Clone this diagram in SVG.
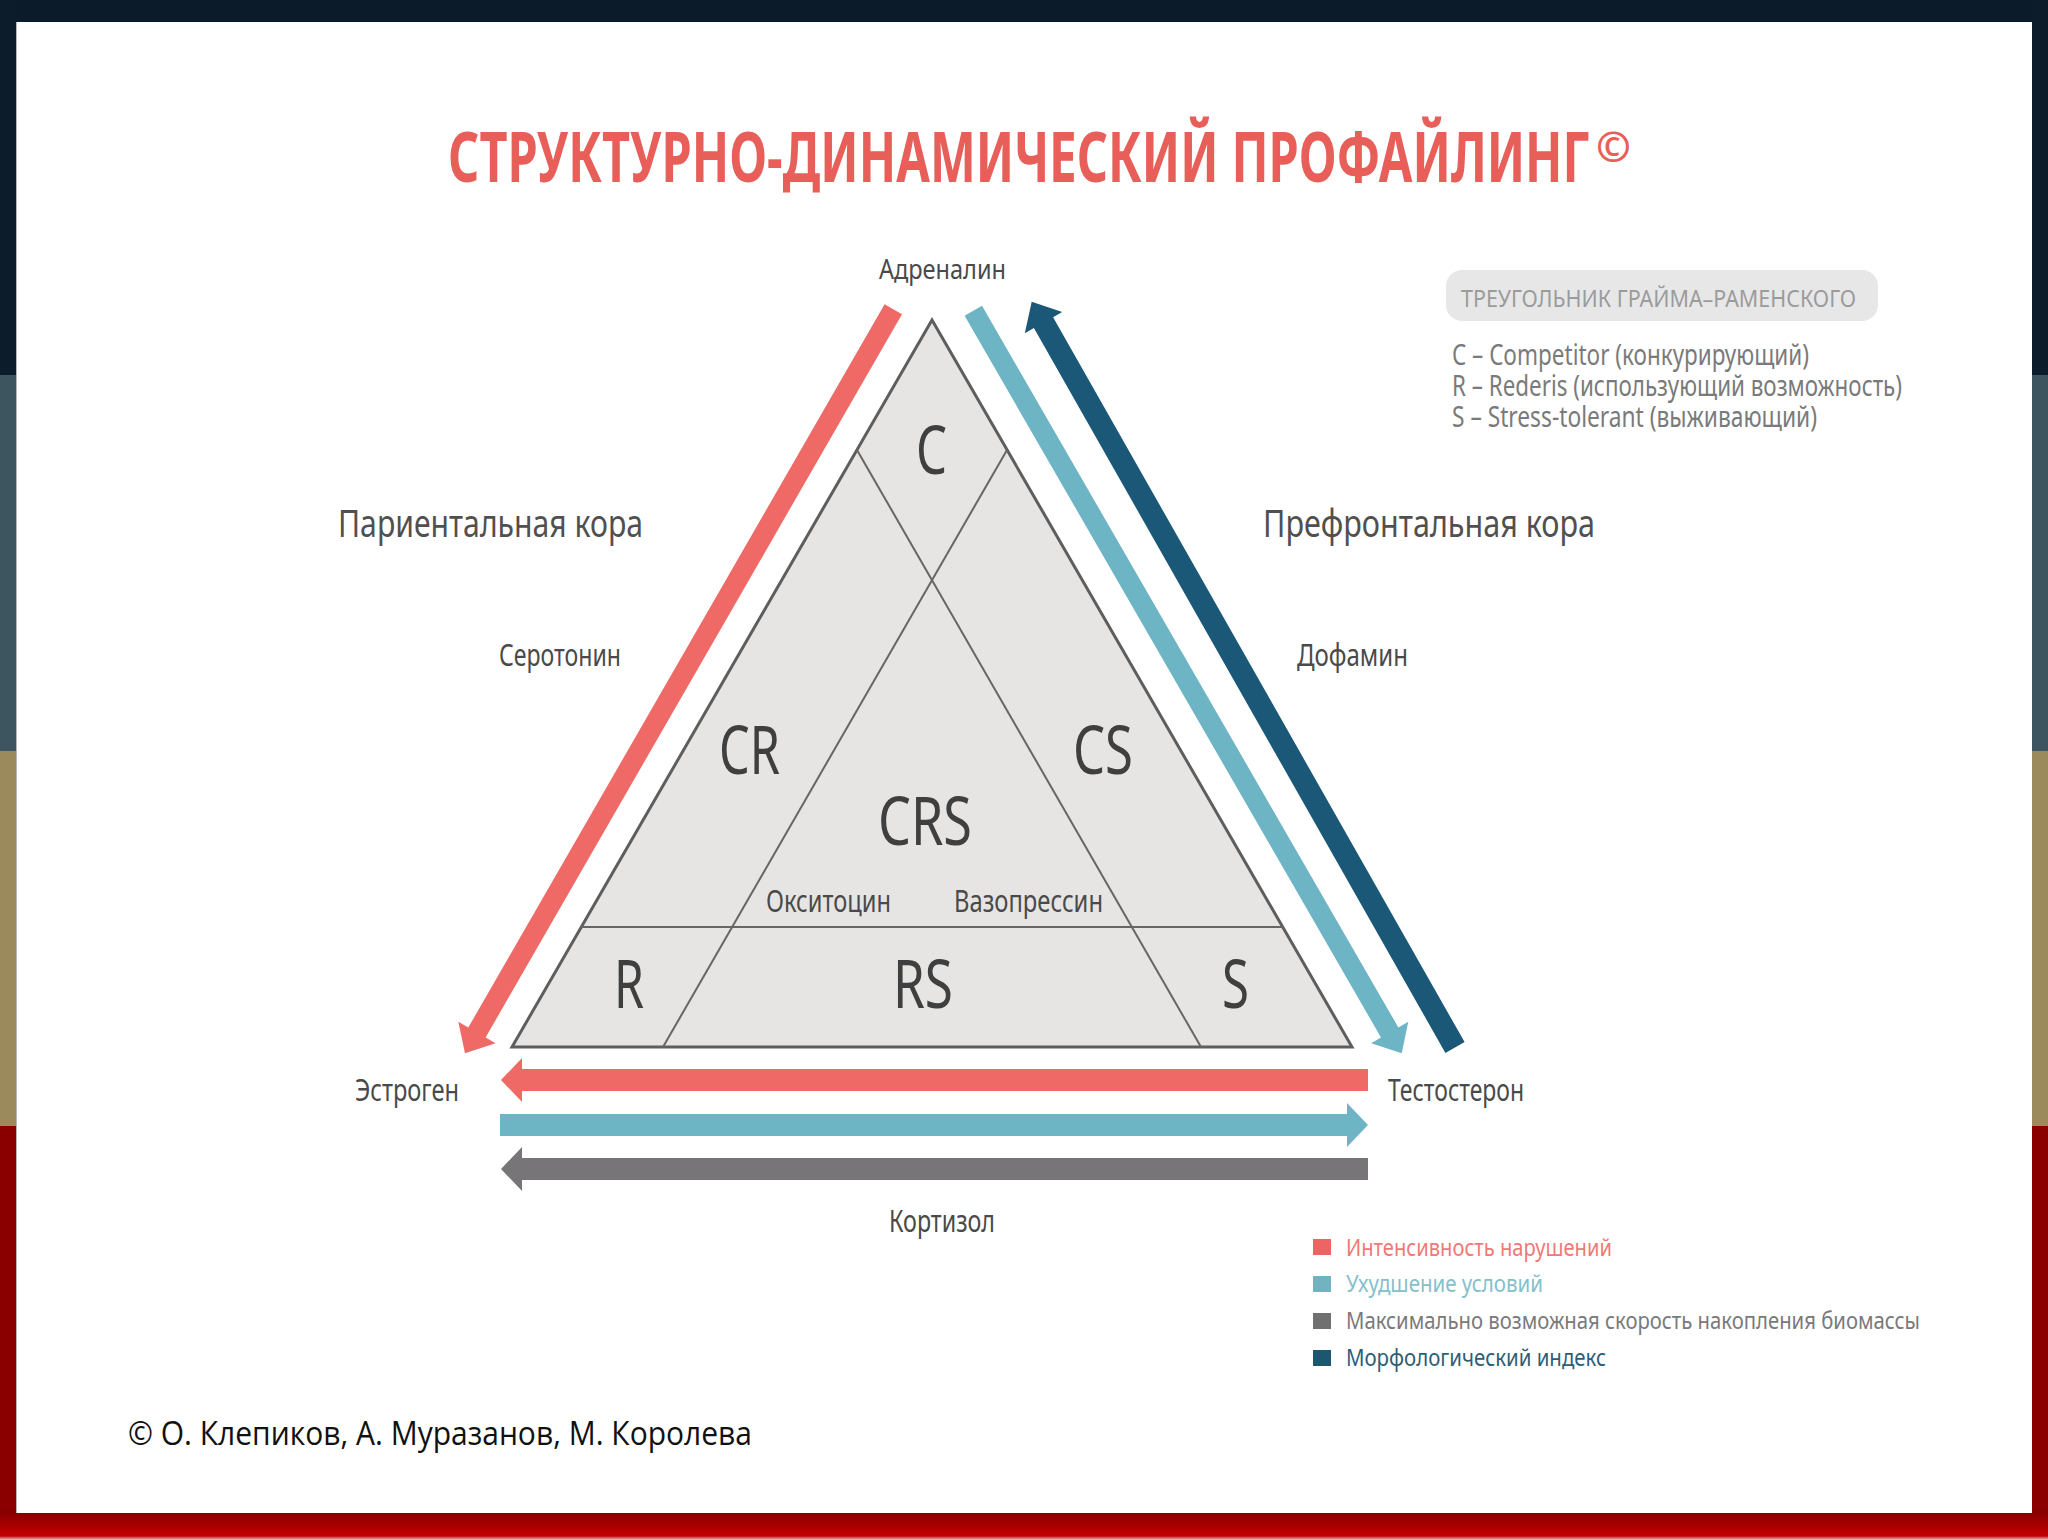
<svg xmlns="http://www.w3.org/2000/svg" width="2048" height="1540" viewBox="0 0 2048 1540">
<defs>
<style>
.t{font-family:"Noto Sans","Open Sans","DejaVu Sans",sans-serif;fill:#4a4a4a}
.big{font-size:68px;fill:#3f3f3f}
.mid{font-size:30px}
.side{font-size:39px;fill:#505050}
.leg{font-size:24px}
.key{font-size:29px;fill:#7a7a7a}
.ln{stroke:#666;stroke-width:2;fill:none}
</style>
<linearGradient id="bot" x1="0" y1="0" x2="0" y2="1">
<stop offset="0" stop-color="#870000"/>
<stop offset="0.85" stop-color="#c40000"/>
<stop offset="1" stop-color="#e9c9c9"/>
</linearGradient>
</defs>

<g id="background">
<rect x="0" y="0" width="2048" height="1540" fill="#ffffff"/>
<rect x="0" y="0" width="2048" height="22" fill="#0b1b29"/>
<rect x="0" y="0" width="16" height="375" fill="#0c1c2a"/>
<rect x="0" y="375" width="16" height="376" fill="#3d555e"/>
<rect x="0" y="751" width="16" height="375" fill="#9a8a5c"/>
<rect x="0" y="1126" width="16" height="414" fill="#8a0000"/>
<rect x="2032" y="0" width="16" height="375" fill="#0c1c2a"/>
<rect x="2032" y="375" width="16" height="376" fill="#3d555e"/>
<rect x="2032" y="751" width="16" height="375" fill="#9a8a5c"/>
<rect x="2032" y="1126" width="16" height="414" fill="#8a0000"/>
<rect x="0" y="1513" width="2048" height="27" fill="url(#bot)"/>
<rect x="16" y="22" width="2016" height="1491" fill="#ffffff"/>
<line x1="16.5" y1="22" x2="16.5" y2="1513" stroke="#b8b8b8" stroke-width="1"/>
</g>

<g id="title">
<text class="t" x="448" y="182" font-size="70" font-weight="700" style="fill:#e85f5a" textLength="1142" lengthAdjust="spacingAndGlyphs">СТРУКТУРНО-ДИНАМИЧЕСКИЙ ПРОФАЙЛИНГ</text>
<text class="t" x="1596" y="162" font-size="42" font-weight="700" style="fill:#e85f5a">©</text>
</g>

<g id="triangle">
<polygon points="932,320 512,1047 1352,1047" fill="#e6e5e3" stroke="#5e5e5e" stroke-width="3" stroke-linejoin="miter"/>
<line class="ln" x1="857" y1="450" x2="1201" y2="1047"/>
<line class="ln" x1="1007" y1="450" x2="663" y2="1047"/>
<line class="ln" x1="581" y1="927" x2="1283" y2="927"/>
</g>

<g id="region-C"><text class="t big" x="916" y="474" textLength="31" lengthAdjust="spacingAndGlyphs">C</text></g>
<g id="region-CR"><text class="t big" x="719" y="774" textLength="61" lengthAdjust="spacingAndGlyphs">CR</text></g>
<g id="region-CS"><text class="t big" x="1073" y="774" textLength="60" lengthAdjust="spacingAndGlyphs">CS</text></g>
<g id="region-CRS"><text class="t big" x="878" y="845" textLength="94" lengthAdjust="spacingAndGlyphs">CRS</text></g>
<g id="region-R"><text class="t big" x="614" y="1008" textLength="30" lengthAdjust="spacingAndGlyphs">R</text></g>
<g id="region-RS"><text class="t big" x="893" y="1008" textLength="60" lengthAdjust="spacingAndGlyphs">RS</text></g>
<g id="region-S"><text class="t big" x="1222" y="1008" textLength="27" lengthAdjust="spacingAndGlyphs">S</text></g>
<g id="oxytocin"><text class="t mid" x="766" y="912" textLength="125" lengthAdjust="spacingAndGlyphs">Окситоцин</text></g>
<g id="vasopressin"><text class="t mid" x="954" y="912" textLength="149" lengthAdjust="spacingAndGlyphs">Вазопрессин</text></g>

<g id="adrenalin"><text class="t" font-size="27" x="879" y="279" textLength="127" lengthAdjust="spacingAndGlyphs">Адреналин</text></g>
<g id="parietal"><text class="t side" x="338" y="537" textLength="305" lengthAdjust="spacingAndGlyphs">Париентальная кора</text></g>
<g id="prefrontal"><text class="t side" x="1263" y="537" textLength="332" lengthAdjust="spacingAndGlyphs">Префронтальная кора</text></g>
<g id="serotonin"><text class="t mid" x="499" y="666" textLength="122" lengthAdjust="spacingAndGlyphs">Серотонин</text></g>
<g id="dopamine"><text class="t mid" x="1297" y="666" textLength="111" lengthAdjust="spacingAndGlyphs">Дофамин</text></g>
<g id="estrogen"><text class="t mid" x="355" y="1101" textLength="104" lengthAdjust="spacingAndGlyphs">Эстроген</text></g>
<g id="testosterone"><text class="t mid" x="1388" y="1101" textLength="136" lengthAdjust="spacingAndGlyphs">Тестостерон</text></g>
<g id="cortisol"><text class="t mid" x="889" y="1232" textLength="106" lengthAdjust="spacingAndGlyphs">Кортизол</text></g>

<g id="connectors">
<polygon fill="#ef6a66" points="884.6,304.2 468.3,1027.5 458.3,1021.8 465,1053.3 495.6,1043.2 485.6,1037.5 902,314.2"/>
<polygon fill="#6db5c4" points="964.6,315.8 1381,1037.5 1371.1,1043.2 1401.7,1053.3 1408.3,1021.7 1398.4,1027.5 982,305.8"/>
<polygon fill="#1b5877" points="1464.6,1042.1 1053.1,317.2 1062.2,312 1031.7,301.7 1024.8,333.2 1033.9,328 1445.4,1052.9"/>
<polygon fill="#ef6a66" points="1368,1069 522,1069 522,1058 501,1080 522,1102 522,1091 1368,1091"/>
<polygon fill="#6db5c4" points="500,1114 1347,1114 1347,1103 1368,1125 1347,1147 1347,1136 500,1136"/>
<polygon fill="#777577" points="1368,1158 522,1158 522,1147 501,1169 522,1191 522,1180 1368,1180"/>
</g>

<g id="grime-key">
<rect x="1446" y="270" width="432" height="51" rx="16" fill="#e7e7e7"/>
<text class="t" font-size="23" style="fill:#9b9b9b" x="1461" y="307" textLength="395" lengthAdjust="spacingAndGlyphs">ТРЕУГОЛЬНИК ГРАЙМА–РАМЕНСКОГО</text>
<text class="t key" x="1452" y="365" textLength="357" lengthAdjust="spacingAndGlyphs">C – Competitor (конкурирующий)</text>
<text class="t key" x="1452" y="396" textLength="450" lengthAdjust="spacingAndGlyphs">R – Rederis (использующий возможность)</text>
<text class="t key" x="1452" y="427" textLength="365" lengthAdjust="spacingAndGlyphs">S – Stress-tolerant (выживающий)</text>
</g>

<g id="legend">
<rect x="1313" y="1239" width="18" height="16" fill="#ec6563"/>
<text class="t leg" style="fill:#ee7a77" x="1346" y="1256" textLength="266" lengthAdjust="spacingAndGlyphs">Интенсивность нарушений</text>
<rect x="1313" y="1276" width="18" height="16" fill="#72b3c1"/>
<text class="t leg" style="fill:#85c0cb" x="1346" y="1292" textLength="197" lengthAdjust="spacingAndGlyphs">Ухудшение условий</text>
<rect x="1313" y="1313" width="18" height="16" fill="#707070"/>
<text class="t leg" style="fill:#7a7a7a" x="1346" y="1329" textLength="574" lengthAdjust="spacingAndGlyphs">Максимально возможная скорость накопления биомассы</text>
<rect x="1313" y="1350" width="18" height="16" fill="#1d5670"/>
<text class="t leg" style="fill:#2c5f77" x="1346" y="1366" textLength="260" lengthAdjust="spacingAndGlyphs">Морфологический индекс</text>
</g>

<g id="footer">
<text x="128" y="1445" font-family="Open Sans, Liberation Sans, sans-serif" font-size="33" fill="#111111" textLength="624" lengthAdjust="spacingAndGlyphs">© О. Клепиков, А. Муразанов, М. Королева</text>
</g>
</svg>
